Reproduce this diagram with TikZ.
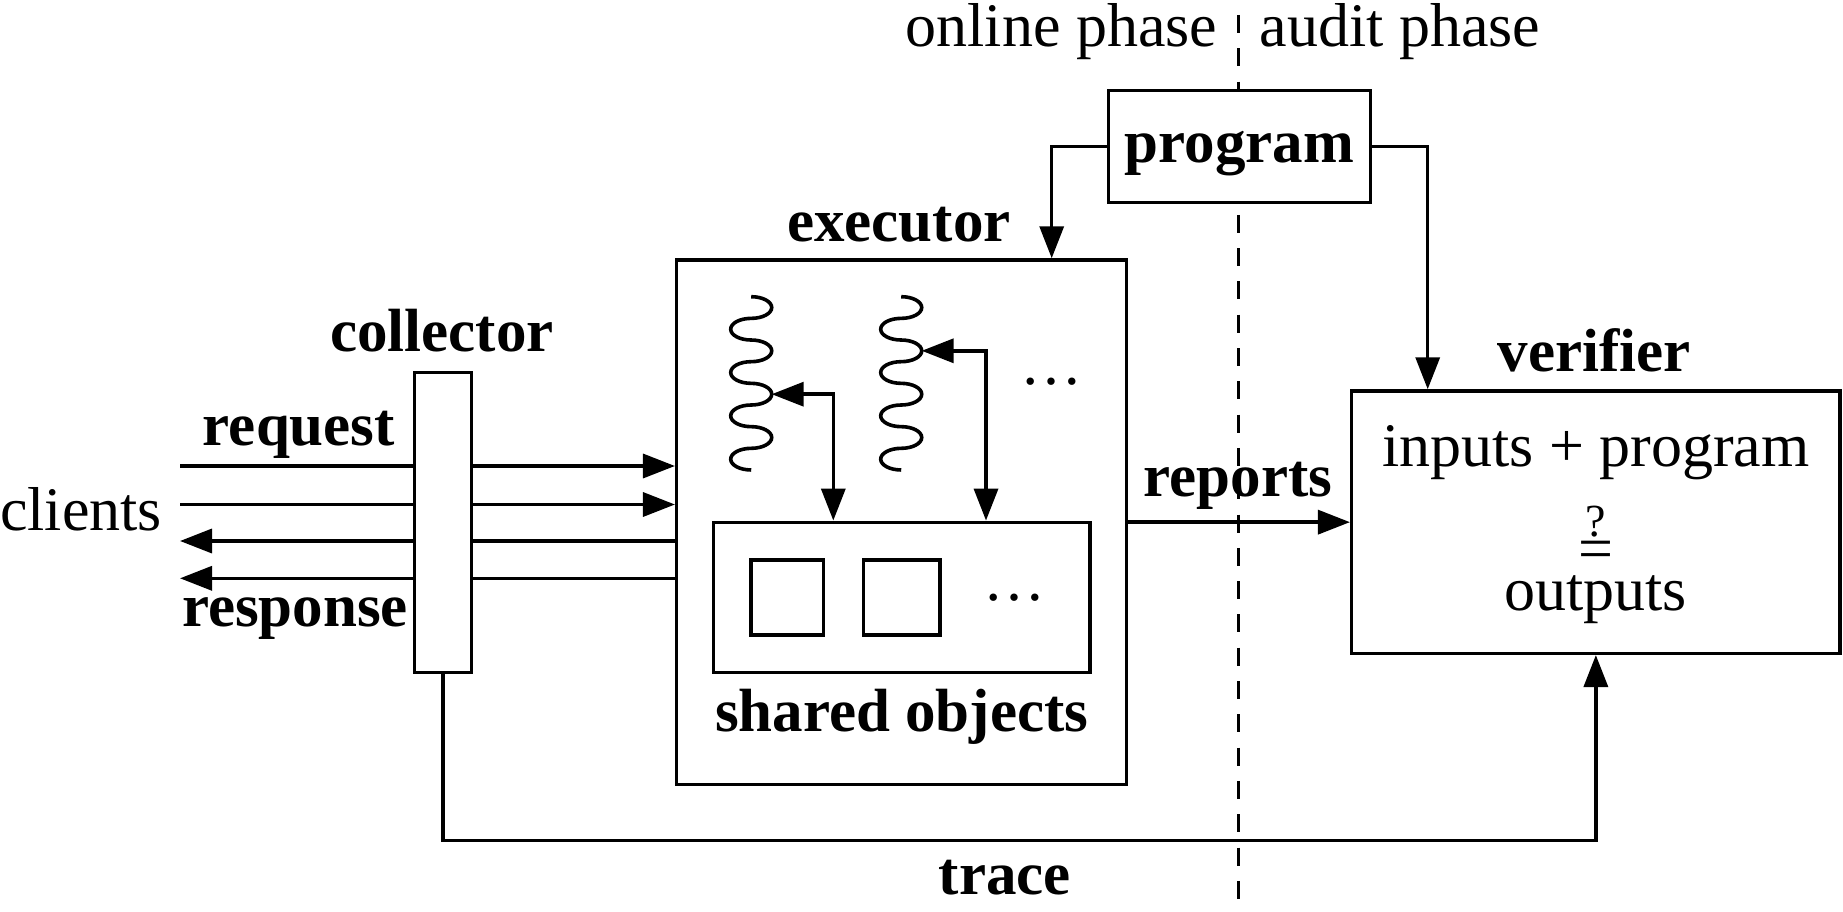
\documentclass[tikz,border=0pt]{standalone}
\usepackage{fontspec}
\setmainfont{Liberation Serif}
\usetikzlibrary{arrows.meta}
\begin{document}
\begin{tikzpicture}[x=1pt,y=-1pt,line width=3.5pt,
  box/.style={draw,line width=3.5pt,inner sep=0pt,fill=white},
  lbl/.style={inner sep=0pt,anchor=base,font=\bfseries\fontsize{61}{61}\selectfont},
  txt/.style={inner sep=0pt,anchor=base,font=\fontsize{62}{62}\selectfont},
  tip/.tip={Triangle[length=32pt,width=24pt]},
  arr/.style={-tip},
  biarr/.style={tip-tip},
  phaseline/.style={line width=3.5pt,dash pattern=on 18pt off 15.3pt},
  thread/.style={line width=3.6pt}]
\useasboundingbox (0,0) rectangle (1843,912);
\fill[white] (0,0) rectangle (1843,912);

% phase divider
\coordinate (dtop) at (1238.3,15);
\coordinate (dbot) at (1238.3,900);
\draw[phaseline] (dtop) -- (dbot);
\node[txt] (online) at (1061.5,47) {online phase};
\node[txt] (audit) at (1400,47) {audit phase};

% boxes
\node[box,minimum width=262.4pt,minimum height=111.6pt,text height=45pt,text depth=12pt,font=\bfseries\fontsize{61}{61}\selectfont] (program) at (1239.5,146.5) {program};
\node[box,minimum width=450pt,minimum height=524.3pt] (executor) at (901.7,522.15) {};
\node[box,minimum width=376.7pt,minimum height=150pt] (shared) at (901.65,597.3) {};
\node[box,minimum width=72.3pt,minimum height=75pt] (obj1) at (787.15,597.5) {};
\node[box,minimum width=76.7pt,minimum height=75pt] (obj2) at (901.65,597.5) {};
\node[box,minimum width=57.4pt,minimum height=300pt] (collector) at (443,522.3) {};
\node[box,minimum width=488.3pt,minimum height=262.3pt] (verifier) at (1595.85,522.15) {};

% labels
\node[lbl] (lexec) at (899,241.7) {executor};
\node[lbl] (lcoll) at (442,351.7) {collector};
\node[lbl] (lreq) at (299,445) {request};
\node[lbl] (lresp) at (295,626.7) {response};
\node[txt] (lclients) at (81,530) {clients};
\node[lbl] (lrep) at (1238,496.7) {reports};
\node[lbl] (lver) at (1594.3,371.7) {verifier};
\node[lbl] (ltrace) at (1005,894) {trace};
\node[lbl] (lshared) at (901.7,731.7) {shared objects};
\node[txt] (vin) at (1595.8,466.7) {inputs + program};
\node[txt] (veq) at (1595.8,569) {\ooalign{=\cr\hidewidth\smash{\raisebox{32.3pt}{\fontsize{46}{46}\selectfont ?}}\hidewidth\cr}};
\node[txt] (vout) at (1595.5,610) {outputs};
\node[txt] (edots) at (1051,384) {…};
\node[txt] (sdots) at (1014.5,600) {…};

% threads
\draw[thread] (751.2,296.7) foreach \i in {1,...,4} {
  arc[start angle=-90,end angle=90,x radius=20.5,y radius=10.83]
  arc[start angle=270,end angle=90,x radius=20.5,y radius=10.83]};
\draw[thread] (901.2,296.7) foreach \i in {1,...,4} {
  arc[start angle=-90,end angle=90,x radius=20.5,y radius=10.83]
  arc[start angle=270,end angle=90,x radius=20.5,y radius=10.83]};
\coordinate (t1p) at (771.7,394.2);
\coordinate (t1v) at (833.3,394.2);
\coordinate (t2p) at (921.7,350.8);
\coordinate (t2v) at (986,350.8);
\draw[biarr] (t1p) -- (t1v) -- (t1v |- shared.north);
\draw[biarr] (t2p) -- (t2v) -- (t2v |- shared.north);

% client lines
\coordinate (c1) at (180,466);
\coordinate (c2) at (180,504.5);
\coordinate (c3) at (180,541);
\coordinate (c4) at (180,578.3);
\draw (c1) -- (c1 -| collector.west);
\draw (c2) -- (c2 -| collector.west);
\draw[arr] (c1 -| collector.east) -- (c1 -| executor.west);
\draw[arr] (c2 -| collector.east) -- (c2 -| executor.west);
\draw (c3 -| executor.west) -- (c3 -| collector.east);
\draw (c4 -| executor.west) -- (c4 -| collector.east);
\draw[arr] (c3 -| collector.west) -- (c3);
\draw[arr] (c4 -| collector.west) -- (c4);

% program connectors
\coordinate (pl) at (1051.7,146.7);
\coordinate (pr) at (1427.7,146.7);
\draw[arr] (program.west |- pl) -- (pl) -- (pl |- executor.north);
\draw[arr] (program.east |- pr) -- (pr) -- (pr |- verifier.north);

% reports
\draw[arr] (executor.east) -- (verifier.west);

% trace
\coordinate (tr) at (0,840.7);
\draw[arr] (collector.south) -- (collector.south |- tr) -- (verifier.south |- tr) -- (verifier.south);
\end{tikzpicture}
\end{document}
